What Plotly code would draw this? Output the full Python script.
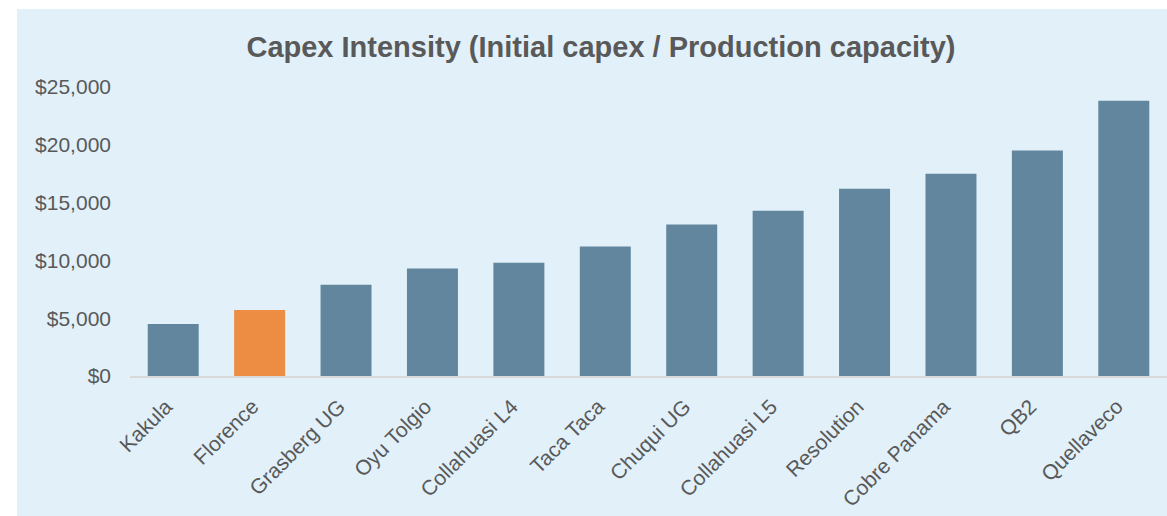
import plotly.graph_objects as go

categories = ["Kakula", "Florence", "Grasberg UG", "Oyu Tolgio", "Collahuasi L4", "Taca Taca",
              "Chuqui UG", "Collahuasi L5", "Resolution", "Cobre Panama", "QB2", "Quellaveco"]
values = [4500, 5700, 7900, 9300, 9800, 11200, 13100, 14300, 16200, 17500, 19500, 23800]
highlight = "Florence"
tick_vals = [0, 5000, 10000, 15000, 20000, 25000]
tick_text = ["$0", "$5,000", "$10,000", "$15,000", "$20,000", "$25,000"]

BLUE = "#62869D"
ORANGE = "#ED8D43"
BG = "#E1F0F9"
TXT = "#595959"

colors = [ORANGE if c == highlight else BLUE for c in categories]

W, H = 1167, 516
ml, mr, mt, mb = 130, 0, 87, 140
pw, ph = W - ml - mr, H - mt - mb

fig = go.Figure(go.Bar(x=categories, y=values, marker=dict(color=colors, line=dict(width=0)),
                       width=0.59))

fig.update_layout(
    width=W, height=H,
    margin=dict(l=ml, r=mr, t=mt, b=mb, pad=0),
    paper_bgcolor="white",
    plot_bgcolor="rgba(0,0,0,0)",
    font=dict(family="Liberation Sans, Arial, sans-serif", color=TXT, size=21),
    title=dict(text="<b>Capex Intensity (Initial capex / Production capacity)</b>",
               x=601 / W, xanchor="center", y=1 - 47 / H, yanchor="middle",
               font=dict(size=29, color=TXT)),
    showlegend=False,
    shapes=[dict(type="rect", xref="paper", yref="paper",
                 x0=(17 - ml) / pw, x1=1.0, y0=-(H - (mt + ph)) / ph, y1=(mt + ph - 9) / ph,
                 fillcolor=BG, line=dict(width=0), layer="below")],
)
fig.update_xaxes(showgrid=False, showline=True, linecolor="#D9D9D9", linewidth=2,
                 tickangle=-45, tickfont=dict(size=21, color=TXT), ticks="", zeroline=False,
                 ticklabelstandoff=8, ticklabelshift=-7)
fig.update_yaxes(range=[0, 25000], tickvals=tick_vals, ticktext=tick_text, showgrid=False,
                 zeroline=False, showline=False, ticks="", ticklabelstandoff=18,
                 tickfont=dict(size=21, color=TXT))

fig.write_html("out.html")
